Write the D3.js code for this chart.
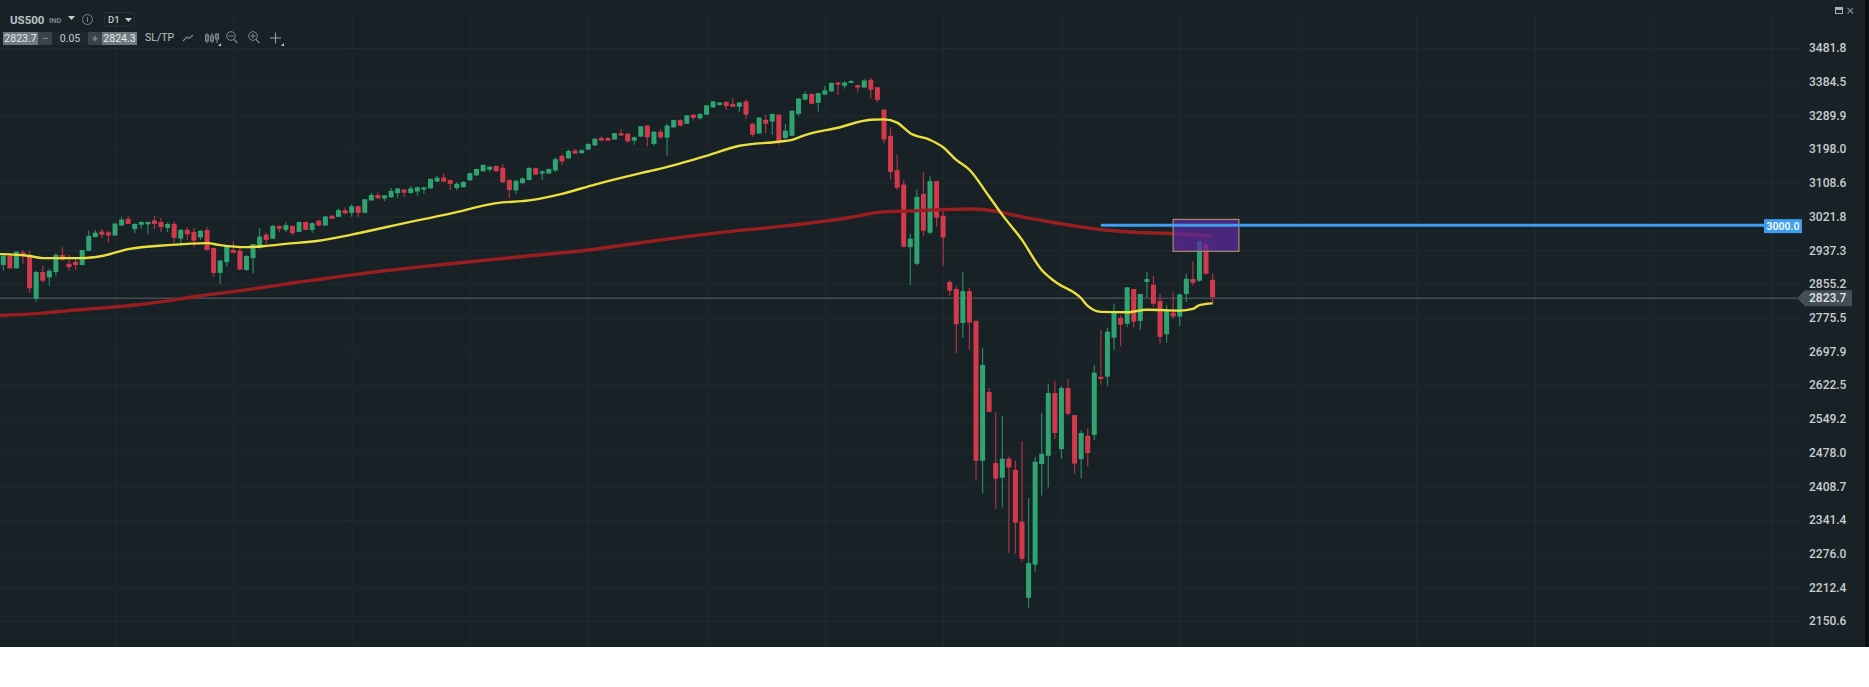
<!DOCTYPE html>
<html>
<head>
<meta charset="utf-8">
<title>US500 D1</title>
<script src="https://cdn.jsdelivr.net/npm/d3@7"></script>
<style>
html, body { margin: 0; padding: 0; background: #fff; }
svg { display: block; }
text { font-family: Roboto, "Noto Sans", sans-serif; }
</style>
</head>
<body>
<div id="chart"></div>
<script>
// daily candles
var opens = [2901,2923,2893,2932,2923,2820,2884,2871,2884,2926,
2904,2909,2901,2936,2970,2984,2982,2974,2999,3016,
2990,3001,3002,3012,3008,2993,3003,2966,2988,2983,
2969,2988,2943,2882,2908,2938,2936,2889,2918,2944,
2976,2966,2998,2988,2998,2983,3008,2988,3011,2999,
3024,3021,3038,3031,3048,3031,3063,3077,3068,3071,
3082,3091,3082,3086,3091,3094,3112,3122,3116,3095,
3097,3115,3128,3139,3143,3153,3148,3116,3089,3108,
3116,3147,3133,3133,3141,3180,3173,3194,3187,3197,
3208,3228,3228,3224,3241,3240,3221,3232,3262,3212,
3245,3229,3257,3277,3267,3292,3282,3292,3312,3319,
3327,3322,3314,3329,3267,3240,3278,3273,3292,3228,
3234,3294,3334,3350,3325,3348,3357,3382,3373,3381,
3375,3368,3390,3369,3306,3234,3142,3104,2945,2904,
3080,2981,3113,3024,2860,2843,2763,2838,2768,2461,
2607,2456,2426,2465,2442,2338,2193,2255,2454,2471,
2605,2485,2616,2557,2464,2513,2515,2641,2641,2729,
2775,2761,2843,2768,2860,2853,2815,2737,2787,2778,
2831,2867,2863,2952,2865];

var highs = [2930,2930,2934,2938,2936,2887,2899,2892,2930,2945,
2926,2920,2938,2986,2988,2991,2986,3005,3021,3023,
3005,3009,3009,3024,3018,3007,3009,2990,2995,2993,
2987,2995,2944,2914,2950,2959,2945,2926,2953,2993,
2981,3001,2999,3007,2999,3009,3009,3007,3015,3023,
3024,3042,3045,3053,3049,3066,3082,3084,3077,3095,
3095,3092,3101,3099,3098,3120,3127,3133,3117,3110,
3113,3135,3146,3157,3152,3154,3158,3118,3117,3124,
3149,3148,3141,3146,3176,3184,3197,3198,3197,3214,
3228,3233,3230,3242,3252,3241,3232,3261,3263,3248,
3252,3267,3278,3280,3291,3293,3296,3319,3330,3327,
3330,3338,3327,3335,3268,3285,3292,3295,3293,3267,
3304,3338,3357,3351,3353,3373,3382,3384,3386,3390,
3376,3392,3396,3370,3307,3257,3182,3116,2979,3092,
3137,3126,3114,3035,2865,2849,2884,2845,2769,2705,
2616,2563,2556,2469,2461,2501,2385,2469,2562,2625,
2632,2621,2636,2558,2524,2529,2667,2747,2752,2808,
2782,2848,2843,2832,2884,2875,2831,2805,2835,2833,
2880,2911,2961,2963,2880];

var lows = [2888,2892,2892,2904,2834,2813,2859,2851,2875,2911,
2888,2889,2901,2935,2969,2967,2956,2973,2998,3003,
2980,2991,2977,2990,2983,2982,2956,2953,2963,2945,
2963,2936,2873,2855,2896,2930,2889,2887,2881,2941,
2953,2966,2982,2983,2975,2982,2987,2980,2997,2999,
3015,3021,3027,3021,3020,3030,3062,3067,3061,3070,
3069,3072,3081,3075,3080,3093,3111,3111,3089,3089,
3097,3114,3127,3138,3138,3138,3108,3069,3080,3104,
3115,3129,3116,3132,3137,3156,3172,3185,3186,3195,
3207,3220,3220,3223,3234,3215,3210,3231,3205,3207,
3225,3180,3256,3259,3266,3275,3278,3291,3311,3317,
3305,3313,3300,3280,3231,3239,3241,3237,3209,3223,
3233,3287,3332,3321,3301,3347,3356,3347,3365,3380,
3354,3367,3337,3326,3214,3117,3090,2944,2853,2900,
2973,2977,2997,2899,2827,2693,2729,2701,2420,2394,
2563,2363,2366,2277,2276,2261,2175,2242,2390,2406,
2507,2465,2556,2435,2425,2449,2504,2624,2621,2701,
2710,2753,2752,2747,2822,2801,2716,2718,2773,2756,
2812,2851,2860,2877,2808];

var closes = [2923,2893,2934,2923,2845,2884,2863,2887,2926,2914,
2896,2901,2938,2973,2981,2976,2974,3004,3014,3003,
3003,3008,3008,3003,2995,3003,2968,2988,2977,2961,
2986,2938,2882,2912,2950,2931,2890,2923,2952,2971,
2963,2998,2991,3000,2980,3008,2988,3005,2999,3022,
3016,3038,3030,3048,3031,3066,3077,3068,3076,3088,
3094,3083,3094,3097,3097,3119,3122,3112,3106,3106,
3111,3134,3145,3156,3151,3139,3110,3090,3114,3120,
3148,3130,3139,3145,3171,3165,3193,3186,3195,3212,
3226,3221,3221,3241,3235,3219,3230,3260,3230,3245,
3230,3262,3277,3262,3290,3283,3294,3318,3329,3326,
3316,3314,3326,3292,3237,3284,3267,3294,3219,3248,
3303,3337,3350,3322,3352,3360,3381,3376,3382,3386,
3368,3388,3362,3333,3224,3137,3096,2946,2966,3072,
2986,3113,3019,2969,2839,2760,2838,2764,2461,2667,
2564,2424,2465,2447,2336,2266,2258,2459,2475,2605,
2519,2616,2560,2455,2519,2477,2650,2636,2743,2787,
2759,2847,2766,2831,2867,2808,2731,2793,2778,2830,
2868,2858,2960,2880,2823.7];

// moving averages, sampled at bar numbers
var fastBars = [-1,4,6,12,15,19,25,31,33,37,40,43,48,53,58,63,68,75,80,85,90,97,100,107,112,118,120,122,127,132,134,136,138,141,143,145,147,150,152,155,158,160,164,165,167,171,174,179,181,182,184];
var fastVals = [2928,2923,2918,2918,2923,2940,2950,2955,2950,2945,2948,2953,2961,2976,2994,3012,3029,3056,3063,3080,3104,3134,3146,3180,3207,3218,3223,3236,3256,3278,3279,3270,3241,3223,3203,3169,3143,3073,3026,2963,2889,2861,2821,2803,2789,2788,2794,2792,2796,2805,2809];
var slowBars = [-1,6,10,15,20,25,30,35,40,45,48,53,58,68,79,89,94,101,110,119,129,133,138,144,148,151,155,160,165,168,172,178,184];
var slowVals = [2780,2786,2792,2798,2805,2815,2827,2837,2848,2860,2866,2877,2887,2904,2922,2938,2949,2965,2983,2998,3020,3032,3036,3040,3041,3035,3021,3006,2993,2987,2982,2979,2972];

var priceTicks = [3481.8,3384.5,3289.9,3198.0,3108.6,3021.8,2937.3,2855.2,2775.5,2697.9,2622.5,2549.2,2478.0,2408.7,2341.4,2276.0,2212.4,2150.6];
var timeGrid = [17,35,53,71,89,107,125,143,161,179,197,215,233,251,269];

var lastPrice = 2823.7;
var alertPrice = 3000.0;
var alertStartBar = 167;
var zoneBars = [178,188];
var zonePrices = [3014.4,2934.6];

var width = 1869, height = 687, panelBottom = 647, panelRight = 1865;

var x = d3.scaleLinear().domain([0,184]).range([3.3,1212.6]);
var y = d3.scaleLog().domain([2150.6,3481.8]).range([621,48]);

var svg = d3.select('#chart').append('svg')
    .attr('width',width)
    .attr('height',height);

svg.append('rect').attr('width',panelRight).attr('height',panelBottom).attr('fill','#182226');
svg.append('rect').attr('x',panelRight).attr('width',width-panelRight).attr('height',panelBottom).attr('fill','#0b0f12');

// grid
var gridColor = '#1f2a30';
svg.append('g')
    .attr('transform','translate(0,'+panelBottom+')')
    .call(d3.axisTop(x).tickValues(timeGrid).tickSize(panelBottom-16).tickFormat(''))
    .call(function(g){
        g.select('.domain').remove();
        g.selectAll('line').attr('stroke',gridColor);
    });

svg.append('g')
    .call(d3.axisRight(y).tickValues(priceTicks).tickSize(1805).tickFormat(''))
    .call(function(g){
        g.select('.domain').remove();
        g.selectAll('line').attr('stroke',gridColor);
    });

// last price line goes under the candles
var ly = y(lastPrice)+1;
svg.append('line')
    .attr('x1',0).attr('x2',1797)
    .attr('y1',ly).attr('y2',ly)
    .attr('stroke','#59636a');

var bars = d3.range(closes.length);
var green = '#2fa472', red = '#d23a4b';
var greenWick = '#2a8663', redWick = '#ad3343';

svg.append('g').selectAll('line')
    .data(bars)
    .enter()
    .append('line')
    .attr('x1',function(i){return x(i)})
    .attr('x2',function(i){return x(i)})
    .attr('y1',function(i){return y(highs[i])})
    .attr('y2',function(i){return y(lows[i])})
    .attr('stroke',function(i){return closes[i]>=opens[i] ? greenWick : redWick})
    .attr('stroke-width',1.2);

svg.append('g').selectAll('rect')
    .data(bars)
    .enter()
    .append('rect')
    .attr('x',function(i){return x(i)-2.5})
    .attr('width',5)
    .attr('y',function(i){return y(Math.max(opens[i],closes[i]))})
    .attr('height',function(i){return Math.max(1,Math.abs(y(opens[i])-y(closes[i])))})
    .attr('fill',function(i){return closes[i]>=opens[i] ? green : red});

// moving averages
var line = d3.line()
    .x(function(d){return x(d[0])})
    .y(function(d){return y(d[1])})
    .curve(d3.curveMonotoneX);

svg.append('path')
    .attr('d',line(d3.zip(slowBars,slowVals)))
    .attr('fill','none')
    .attr('stroke','#9a1d1f')
    .attr('stroke-width',3.4);

svg.append('path')
    .attr('d',line(d3.zip(fastBars,fastVals)))
    .attr('fill','none')
    .attr('stroke','#e9e03f')
    .attr('stroke-width',2.4);

// drawn zone
svg.append('rect')
    .attr('x',x(zoneBars[0]))
    .attr('width',x(zoneBars[1])-x(zoneBars[0]))
    .attr('y',y(zonePrices[0]))
    .attr('height',y(zonePrices[1])-y(zonePrices[0]))
    .attr('fill','#5a2a9a')
    .attr('fill-opacity',0.75)
    .attr('stroke','#ad8a70')
    .attr('stroke-width',1.2);

// alert level
svg.append('line')
    .attr('x1',x(alertStartBar)).attr('x2',1764)
    .attr('y1',y(alertPrice)).attr('y2',y(alertPrice))
    .attr('stroke','#3f9ded')
    .attr('stroke-width',3);
svg.append('rect')
    .attr('x',1764).attr('y',y(alertPrice)-6)
    .attr('width',38).attr('height',14)
    .attr('fill','#3f9ded');
svg.append('text')
    .attr('x',1783).attr('y',y(alertPrice)+4.8)
    .attr('text-anchor','middle')
    .attr('fill','#fff')
    .attr('font-size',10.5)
    .attr('font-weight',500)
    .text(d3.format('.1f')(alertPrice));

// price axis labels
svg.append('g')
    .attr('transform','translate(1809,0)')
    .call(d3.axisRight(y).tickValues(priceTicks).tickSize(0).tickPadding(0).tickFormat(d3.format('.1f')))
    .call(function(g){
        g.select('.domain').remove();
        g.selectAll('text')
            .attr('fill','#c9cdd0')
            .attr('font-family','Roboto')
            .attr('font-size',12)
            .attr('font-weight',500);
    });

// last price tag
svg.append('path')
    .attr('d','M1797,'+ly+'L1805,'+(ly-8)+'H1852V'+(ly+8)+'H1805Z')
    .attr('fill','#434e57');
svg.append('text')
    .attr('x',1809).attr('y',ly+4.3)
    .attr('fill','#e2e5e7')
    .attr('font-size',12)
    .attr('font-weight',500)
    .text(d3.format('.1f')(lastPrice));

// toolbar
var bar = svg.append('g');
function label(tx,ty,str,size,color,weight,anchor){
    bar.append('text')
        .attr('x',tx).attr('y',ty)
        .attr('font-size',size)
        .attr('fill',color)
        .attr('font-weight',weight||400)
        .attr('text-anchor',anchor||'start')
        .text(str);
}
function box(bx,by,w,h,fill){
    bar.append('rect').attr('x',bx).attr('y',by).attr('width',w).attr('height',h).attr('fill',fill);
}
function icon(d,color){
    bar.append('path').attr('d',d).attr('fill','none').attr('stroke',color||'#7d878d').attr('stroke-width',1.1);
}
function solid(d,color){
    bar.append('path').attr('d',d).attr('fill',color||'#c4c9cc');
}

label(10,24,'US500',11.5,'#bcc2c6',700);
label(49,23,'IND',7.5,'#79838a',700);
solid('M68,16H75L71.5,20Z','#c4c9cc');
bar.append('circle').attr('cx',87.5).attr('cy',19.5).attr('r',5).attr('fill','none').attr('stroke','#79838a');
icon('M87.5,17V22','#79838a');
bar.append('rect').attr('x',104.5).attr('y',12.5).attr('width',30).attr('height',13.5).attr('fill','none').attr('stroke','#27323a').attr('rx',1);
label(108,23,'D1',9.5,'#c4c9cc',500);
solid('M125,18H132L128.5,22Z','#c4c9cc');

box(3,32,35,13,'#6f7a80');
box(38,32,14,13,'#38434a');
box(52,32,36,13,'#1d272e');
box(88,32,14,13,'#38434a');
box(102,32,35,13,'#6f7a80');
label(20.5,42,'2823.7',10.5,'#e6e9ea',400,'middle');
label(45,42,'−',11,'#7d878d',700,'middle');
label(70,42,'0.05',10.5,'#c4c9cc',400,'middle');
label(95,42,'+',11,'#7d878d',700,'middle');
label(119.5,42,'2824.3',10.5,'#e6e9ea',400,'middle');
label(145,41,'SL/TP',10.5,'#bcc2c6',400);

icon('M183,41L187,37L189,38.5L193,35');
icon('M207,33V43M212,33V43M217,33V43');
icon('M205.5,35H208.5V41H205.5ZM210.5,36H213.5V41H210.5ZM215.5,34H218.5V39H215.5Z');
bar.append('circle').attr('cx',231).attr('cy',36).attr('r',4.3).attr('fill','none').attr('stroke','#7d878d');
icon('M228.5,36H233.5M234,39.5L237.5,43');
bar.append('circle').attr('cx',253).attr('cy',36).attr('r',4.3).attr('fill','none').attr('stroke','#7d878d');
icon('M250.5,36H255.5M253,33.5V38.5M256,39.5L259.5,43');
icon('M275.5,32.5V43.5M270,38H281','#98a1a6');
solid('M218,46H221V43Z','#c4c9cc');
solid('M281,46H284V43Z','#c4c9cc');

// window buttons
solid('M1835,7H1843V14H1835Z','#aab1b5');
solid('M1836,10H1842V13H1836Z','#182226');
icon('M1847.5,8L1853,13.5M1853,8L1847.5,13.5','#7d878d');
</script>
</body>
</html>
